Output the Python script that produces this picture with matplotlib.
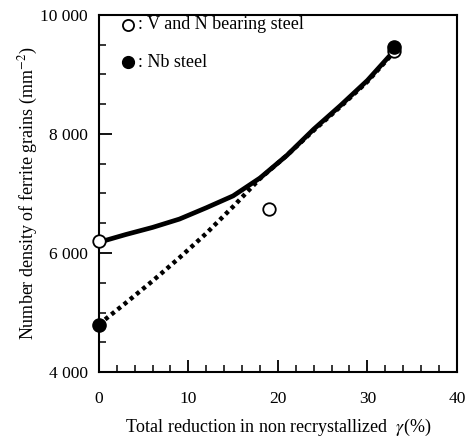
import numpy as np
import matplotlib
matplotlib.use("Agg")
from matplotlib import pyplot as plt
from matplotlib.ticker import MultipleLocator, FuncFormatter

# measured points
vn_x = [0, 19, 33]
vn_y = [6200, 6740, 9390]
nb_x = [0, 33]
nb_y = [4790, 9470]

# fitted curves
vn_curve_x = [0, 3, 6, 9, 12, 15, 18, 21, 24, 27, 30, 33]
vn_curve_y = [6180, 6310, 6430, 6570, 6760, 6960, 7260, 7640, 8080, 8480, 8900, 9400]
nb_curve_x = [0, 3, 6, 9, 12, 15, 18, 21, 24, 27, 30, 33]
nb_curve_y = [4800, 5160, 5530, 5920, 6330, 6780, 7250, 7640, 8060, 8460, 8880, 9380]

plt.rcParams['font.family'] = ['Liberation Serif', 'DejaVu Serif']
plt.rcParams['mathtext.fontset'] = 'stix'

fig = plt.figure(figsize=(4.73, 4.40), dpi=100)
ax = fig.add_axes([0.209, 0.1545, 0.757, 0.8115])

ax.plot(vn_curve_x, vn_curve_y, color='black', lw=3.4, solid_capstyle='round',
        solid_joinstyle='round', zorder=2)
ax.plot(nb_curve_x, nb_curve_y, color='black', lw=3.2, linestyle=(0, (0.9, 0.9)), zorder=2)
ax.plot(vn_x, vn_y, 'o', ms=9, mfc='white', mec='black', mew=1.3, zorder=3, clip_on=False)
ax.plot(nb_x, nb_y, 'o', ms=9.5, mfc='black', mec='black', zorder=3, clip_on=False)

# legend
ax.plot([0.082], [0.972], 'o', ms=8, mfc='white', mec='black', mew=1.3, transform=ax.transAxes)
ax.plot([0.082], [0.868], 'o', ms=8.5, mfc='black', mec='black', transform=ax.transAxes)
ax.text(0.11, 0.972, ': V and N bearing steel', transform=ax.transAxes, fontsize=13, va='center')
ax.text(0.11, 0.868, ': Nb steel', transform=ax.transAxes, fontsize=13, va='center')

ax.set_xlim(0, 40)
ax.set_ylim(4000, 10000)
ax.xaxis.set_major_locator(MultipleLocator(10))
ax.xaxis.set_minor_locator(MultipleLocator(2))
ax.yaxis.set_major_locator(MultipleLocator(2000))
ax.yaxis.set_minor_locator(MultipleLocator(500))
ax.yaxis.set_major_formatter(FuncFormatter(lambda v, p: f"{int(v):,}".replace(',', ' ')))
ax.tick_params(which='major', direction='in', length=9, width=1.3, labelsize=12.5, pad=8)
ax.tick_params(axis='x', which='major', pad=14)
ax.tick_params(which='minor', direction='in', length=5, width=1.1)
for s in ax.spines.values():
    s.set_linewidth(1.5)

ax.set_xlabel(r"Total reduction in non recrystallized  $\gamma$(%)", fontsize=13, labelpad=7)
ax.set_ylabel(r"Number density of ferrite grains (mm$^{-2}$)", fontsize=13, labelpad=0)

fig.savefig("out.png", dpi=100)
